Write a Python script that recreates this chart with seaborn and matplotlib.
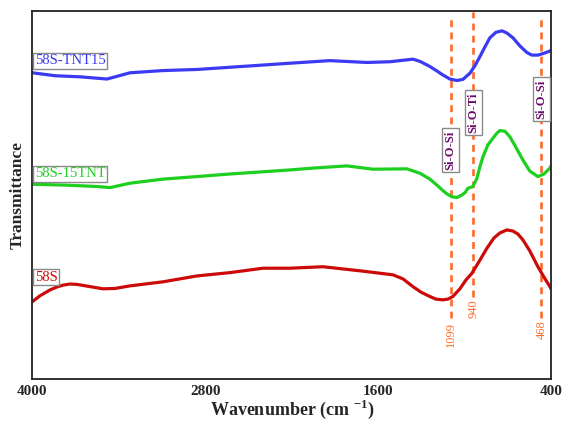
import numpy as np
import pandas as pd
import matplotlib
matplotlib.use("Agg")
import matplotlib.pyplot as plt
import seaborn as sns

# ---------------- data ----------------
wn_tnt15 = [4000, 3843, 3669, 3482, 3322, 3094, 2858, 2629, 2400, 2213, 1936, 1679, 1519,
            1360, 1311, 1242, 1194, 1152, 1103, 1055, 1013, 964, 930, 895, 861, 826, 784,
            742, 708, 666, 618, 569, 535, 493, 451, 410, 400]
t_tnt15 = [83.2, 82.4, 82.1, 81.5, 83.2, 83.8, 84.1, 84.7, 85.3, 85.8, 86.5, 86.0, 86.2,
           86.9, 86.3, 84.9, 83.7, 82.6, 81.5, 81.1, 81.4, 83.1, 85.1, 87.6, 90.2, 92.7, 94.2,
           94.6, 94.0, 92.7, 90.5, 88.7, 88.0, 88.0, 88.5, 89.1, 89.4]

wn_15tnt = [4000, 3787, 3552, 3461, 3322, 3094, 2858, 2629, 2400, 2213, 2053, 1818, 1637,
            1402, 1311, 1242, 1194, 1152, 1124, 1089, 1055, 1020, 999, 979, 944, 916, 895,
            874, 840, 805, 777, 756, 721, 687, 646, 597, 549, 493, 451, 410, 400]
t_15tnt = [52.9, 52.7, 52.3, 52.0, 53.2, 54.3, 55.0, 55.7, 56.3, 56.8, 57.3, 57.9, 57.0,
           57.1, 55.9, 54.3, 52.7, 51.2, 50.3, 49.5, 49.3, 50.0, 50.6, 51.8, 52.3, 54.5, 57.7,
           60.4, 63.6, 65.4, 66.8, 67.5, 67.3, 65.8, 63.0, 59.5, 56.5, 55.0, 55.7, 57.3, 58.0]

wn_58s = [4000, 3947, 3877, 3829, 3787, 3739, 3690, 3600, 3510, 3426, 3322, 3094, 2858,
          2629, 2400, 2213, 1984, 1707, 1498, 1429, 1360, 1304, 1242, 1200, 1152, 1117, 1083,
          1034, 992, 951, 895, 847, 798, 756, 708, 666, 632, 597, 549, 493, 451, 410, 400]
t_58s = [21.0, 22.6, 24.2, 25.0, 25.5, 25.8, 25.7, 25.1, 24.5, 24.6, 25.3, 26.4, 28.0,
         28.9, 30.1, 30.1, 30.5, 29.3, 28.3, 27.2, 25.1, 23.6, 22.4, 21.7, 21.5, 21.7, 22.4,
         24.5, 26.9, 28.7, 32.3, 35.5, 38.3, 39.7, 40.5, 40.2, 39.4, 37.8, 34.8, 30.5, 27.7,
         25.1, 24.4]

samples = ["58S-TNT15", "58S-15TNT", "58S"]
colors = ["#3a3af2", "#1fcf1f", "#cc0a0a"]

band_positions = [1099, 940, 468]
band_labels = ["1099", "940", "468"]
band_names = ["Si-O-Si", "Si-O-Ti", "Si-O-Si"]

x_ticks = [4000, 2800, 1600, 400]

# ---------------- build table ----------------
frames = []
for name, wn, tr in zip(samples, [wn_tnt15, wn_15tnt, wn_58s], [t_tnt15, t_15tnt, t_58s]):
    frames.append(pd.DataFrame({"wavenumber": wn, "transmittance": tr, "sample": name}))
df = pd.concat(frames, ignore_index=True)

# ---------------- style ----------------
sns.set_style("white")
plt.rcParams["font.family"] = ["Liberation Serif", "DejaVu Serif"]
plt.rcParams["mathtext.fontset"] = "custom"
plt.rcParams["mathtext.rm"] = "Liberation Serif"
plt.rcParams["mathtext.bf"] = "Liberation Serif:bold"

fig = plt.figure(figsize=(5.63, 4.21), dpi=100)
ax = fig.add_axes([0.0574, 0.0998, 0.9218, 0.8742])

sns.lineplot(data=df, x="wavenumber", y="transmittance", hue="sample",
             hue_order=samples, palette=colors, sort=False, estimator=None,
             linewidth=2.3, legend=False, ax=ax)
for l in ax.lines:
    l.set_solid_joinstyle("round")
    l.set_solid_capstyle("round")

ax.set_xlim(4000, 400)
ax.set_ylim(0, 100)

# dashed band markers
dash_col = "#ff6a2a"
band_ymin = [16.6, 22.3, 16.6]
band_ymax = [98.4, 99.7, 98.6]
for pos, y0, y1 in zip(band_positions, band_ymin, band_ymax):
    ax.vlines(pos, y0, y1, colors=dash_col, linestyles=(0, (2.6, 2.0)), linewidth=1.9, zorder=1)

num_y = [12.2, 19.0, 13.3]
for pos, lab, y in zip(band_positions, band_labels, num_y):
    ax.text(pos, y, lab, rotation=90, ha="center", va="center", color=dash_col,
            fontsize=9)

name_y = [62.2, 72.3, 76.1]
for pos, lab, y in zip(band_positions, band_names, name_y):
    ax.text(pos, y, lab, rotation=90, ha="center", va="center", color="#6a0a6a",
            fontsize=9, fontweight="bold",
            bbox=dict(boxstyle="square,pad=0.18", fc="white", ec="#8a8a8a", lw=1.0), zorder=5)

# sample labels
label_y = [86.4, 55.7, 27.7]
for name, col, y in zip(samples, colors, label_y):
    ax.text(3983, y, name, ha="left", va="center", color=col, fontsize=10.5,
            bbox=dict(boxstyle="square,pad=0.12", fc="white", ec="#8a8a8a", lw=1.0), zorder=5)

ax.set_xticks(x_ticks)
ax.set_xticklabels([str(v) for v in x_ticks], fontsize=11, fontweight="bold")
ax.set_yticks([])
ax.tick_params(axis="x", length=0, pad=4)
ax.set_xlabel(r"Wavenumber (cm $^{\mathbf{-1}}$)", fontsize=13, fontweight="bold", labelpad=0)
ax.set_ylabel("Transmittance", fontsize=12.5, fontweight="bold", labelpad=5)

for s in ax.spines.values():
    s.set_visible(True)
    s.set_color("#222222")
    s.set_linewidth(1.3)

fig.savefig("out.png", dpi=100)
